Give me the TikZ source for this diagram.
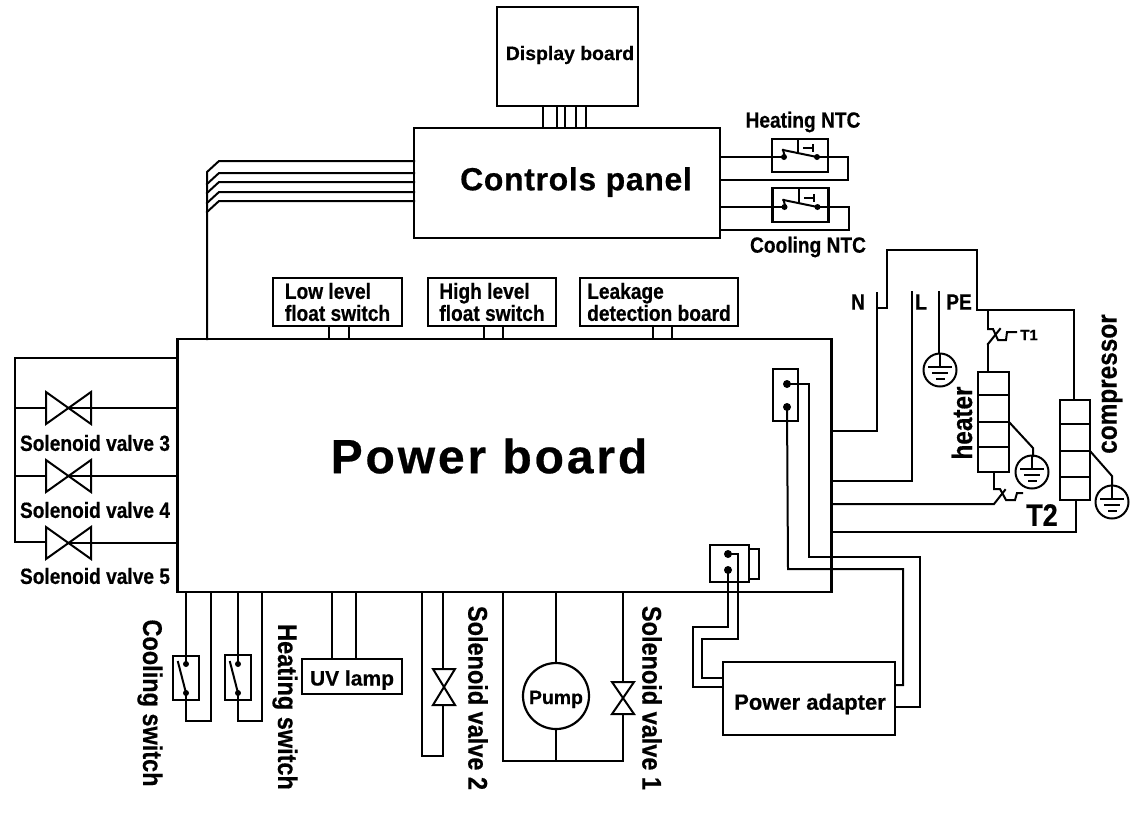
\documentclass[tikz,border=0pt]{standalone}
\usepackage{fontspec}
\setmainfont{Liberation Sans}[BoldFeatures={FakeBold=0.5}]
\newfontfamily\narfont[FakeStretch=0.87,BoldFeatures={FakeBold=0.5}]{Liberation Sans}
\newcommand{\fsz}[1]{\fontsize{#1}{#1}\selectfont}
\tikzset{
  x=1pt,y=-1pt,
  wire/.style={line width=2pt,line join=miter,line cap=rect},
  boxn/.style={draw,line width=2.2pt,inner sep=0pt,outer sep=0pt,rectangle},
  lbl/.style={inner sep=0pt,outer sep=0pt,font=\bfseries\fsz{19}},
  narlbl/.style={inner sep=0pt,outer sep=0pt,font=\narfont\bfseries\fsz{#1}},
  narlbl/.default=22,
  pics/gnd/.style={code={
    \draw[wire] (0,0) circle (16.5);
    \draw[wire] (0,-16.5) -- (0,-3);
    \draw[wire] (-11,-3) -- (11,-3);
    \draw[wire] (-7,3) -- (7,3);
    \draw[wire] (-3.5,9) -- (3.5,9);
  }},
  pics/hvalve/.style={code={
    \draw[wire] (-22.5,-16) -- (22.5,16) -- (22.5,-16) -- (-22.5,16) -- cycle;
  }},
  pics/vvalve/.style={code={
    \draw[wire] (-11,-#1) -- (11,#1) -- (-11,#1) -- (11,-#1) -- cycle;
  }},
  pics/ntc/.style={code={
    \fill (-16,0) circle (3) (17,0) circle (3);
    \draw[wire] (-17,-7) -- (-15,0);
    \draw[wire] (-17,-7) -- (17,0);
    \draw[wire] (-2,-18) -- (-2,-5);
    \draw[wire] (4,-9) -- (13,-9);
    \draw[wire] (13,-12) -- (13,-6);
  }},
  pics/vsw/.style={code={
    \fill (0,0) circle (3) (0,29) circle (3);
    \draw[wire] (-8,-2) -- (0,29);
  }},
  pics/thermo/.style={code={
    \draw[wire] (0,0) -- (5,0) -- (10,11) -- (18,11) -- (19,3) -- (28,3);
    \draw[wire] (0,15) -- (12,0);
  }},
}
\begin{document}
\begin{tikzpicture}
\useasboundingbox (0,0) rectangle (1142,815);

% main boxes
\node[boxn,lbl,minimum width=141pt,minimum height=99pt] (display) at (567.5,56.5) {};
\node[lbl,font=\bfseries\fsz{19.4}] (displaytxt) at (570,55) {Display board};
\node[boxn,minimum width=306pt,minimum height=110pt] (panel) at (567,183) {};
\node[lbl,font=\bfseries\fsz{32}] (paneltxt) at (576,182) {\addfontfeature{LetterSpace=2}Controls panel};
\node[boxn,minimum width=654pt,minimum height=253pt] (power) at (504.5,465.5) {};
\node[lbl,font=\bfseries\fsz{48}] (powertxt) at (489,456) {\addfontfeature{LetterSpace=6}Power board};

% float switch boxes
\node[boxn,minimum width=129pt,minimum height=48pt,narlbl=22,align=left] (low) at (337.5,302) {\baselineskip=21pt Low level\\float switch};
\node[boxn,minimum width=128pt,minimum height=48pt,narlbl=22,align=left] (high) at (492,302) {\baselineskip=21pt High level\\float switch};
\node[boxn,minimum width=158pt,minimum height=48pt,narlbl=22,align=left] (leak) at (659,302) {\baselineskip=21pt Leakage\\detection board};
\draw[wire] (329,0 |- low.south) -- (329,0 |- power.north) (349,0 |- low.south) -- (349,0 |- power.north);
\draw[wire] (484,0 |- high.south) -- (484,0 |- power.north) (503,0 |- high.south) -- (503,0 |- power.north);
\draw[wire] (653,0 |- leak.south) -- (653,0 |- power.north) (672,0 |- leak.south) -- (672,0 |- power.north);

% display to panel
\foreach \xx in {543,557,565,576,586}
  \draw[wire] (\xx,0 |- display.south) -- (\xx,0 |- panel.north);

% panel to power
\draw[wire] (207,0 |- power.north) -- (207,172) -- (219,161) -- (panel.west |- 0,161);
\draw[wire] (207,184) -- (219,173) -- (panel.west |- 0,173);
\draw[wire] (207,193) -- (219,182) -- (panel.west |- 0,182);
\draw[wire] (207,203) -- (219,192) -- (panel.west |- 0,192);
\draw[wire] (207,212) -- (219,201) -- (panel.west |- 0,201);

% NTC
\draw[wire] (panel.east |- 0,157) -- (848,157) -- (848,180) -- (panel.east |- 0,180);
\draw[wire] (panel.east |- 0,207) -- (849,207) -- (849,230) -- (panel.east |- 0,230);
\node[boxn,fill=white,minimum width=56pt,minimum height=33pt] (hntcb) at (800,155.5) {};
\node[boxn,fill=white,minimum width=56pt,minimum height=34pt] (cntcb) at (800.5,205) {};
\draw[wire] (hntcb.west |- 0,157) -- (784,157) (817,157) -- (hntcb.east |- 0,157);
\draw[wire] (cntcb.west |- 0,207) -- (784,207) (817,207) -- (cntcb.east |- 0,207);
\pic at (800,157) {ntc};
\pic at (800.5,207) {ntc};
\node[narlbl=22] (hntclbl) at (803,122) {Heating NTC};
\node[narlbl=22] (cntclbl) at (808,247) {Cooling NTC};

% left valves
\draw[wire] (power.west |- 0,358) -- (15,358) -- (15,542);
\draw[wire] (15,408) -- (46,408) (68,408) -- (power.west |- 0,408);
\draw[wire] (15,476) -- (46,476) (68,476) -- (power.west |- 0,476);
\draw[wire] (15,542) -- (46,542) (68,543) -- (power.west |- 0,543);
\pic at (68.5,408) {hvalve};
\pic at (68.5,476) {hvalve};
\pic at (68.5,543) {hvalve};
\node[narlbl=22] (sv3) at (95,443) {Solenoid valve 3};
\node[narlbl=22] (sv4) at (95,510) {Solenoid valve 4};
\node[narlbl=22] (sv5) at (95,576) {Solenoid valve 5};

% cooling / heating switch
\node[boxn,minimum width=26pt,minimum height=44pt] (csw) at (186,678) {};
\node[boxn,minimum width=26pt,minimum height=45pt] (hsw) at (238,677.5) {};
\draw[wire] (186,0 |- power.south) -- (186,664) (186,693) -- (186,721) -- (211,721) -- (211,0 |- power.south);
\draw[wire] (238,0 |- power.south) -- (238,664) (238,693) -- (238,721) -- (262,721) -- (262,0 |- power.south);
\pic at (186,664) {vsw};
\pic at (238,664) {vsw};
\node[narlbl=27,rotate=-90] (cswl) at (150,703) {Cooling switch};
\node[narlbl=27,rotate=-90] (hswl) at (285,707) {Heating switch};

% UV lamp
\node[boxn,minimum width=100pt,minimum height=35pt,lbl,font=\bfseries\fsz{21}] (uv) at (352,676.5) {\raisebox{-9pt}[0pt][0pt]{UV lamp}};
\draw[wire] (332,0 |- power.south) -- (332,0 |- uv.north) (356,0 |- power.south) -- (356,0 |- uv.north);

% valve 2
\draw[wire] (422,0 |- power.south) -- (422,756) -- (443,756) -- (443,705);
\draw[wire] (443,0 |- power.south) -- (443,669);
\pic at (444,687) {vvalve=18};
\node[narlbl=27,rotate=-90] (sv2) at (478,698) {Solenoid valve 2};

% pump, valve 1
\node[boxn,circle,minimum size=66pt,lbl,font=\bfseries\fsz{19.4}] (pump) at (556,696) {\raisebox{-8pt}[0pt][0pt]{Pump}};
\draw[wire] (556,0 |- power.south) -- (pump.north);
\draw[wire] (pump.south) -- (556,761);
\draw[wire] (503,0 |- power.south) -- (503,761) -- (623,761) -- (623,714);
\draw[wire] (623,0 |- power.south) -- (623,682);
\pic at (623,698) {vvalve=16};
\node[narlbl=27,rotate=-90] (sv1) at (652,698) {Solenoid valve 1};

% power adapter & connectors
\node[boxn,minimum width=172pt,minimum height=73pt,lbl,font=\bfseries\fsz{22}] (adapter) at (809,698.5) {};
\node[lbl,font=\bfseries\fsz{22}] (adaptertxt) at (810,704) {Power adapter};
\node[boxn,minimum width=39pt,minimum height=37pt] (conb) at (729.5,563.5) {};
\node[boxn,minimum width=10pt,minimum height=30pt] (tab) at (754,564) {};
\node[boxn,minimum width=25pt,minimum height=52pt] (conr) at (785.5,395) {};
\fill (728,554) circle (4) (728,570) circle (4) (787,384) circle (4) (787,407) circle (4);
\draw[wire] (728,570) -- (728,627) -- (693,627) -- (693,687) -- (adapter.west |- 0,687);
\draw[wire] (728,554) -- (738,554) -- (738,639) -- (702,639) -- (702,678) -- (adapter.west |- 0,678);
\draw[wire] (787,384) -- (809,384) -- (809,557) -- (920,557) -- (920,707) -- (adapter.east |- 0,707);
\draw[wire] (787,407) -- (788,569) -- (903,569) -- (903,685) -- (adapter.east |- 0,685);

% mains
\draw[wire] (power.east |- 0,431) -- (877,431) -- (877,293);
\draw[wire] (877,308) -- (887,308) -- (887,250) -- (977,250) -- (977,310) -- (1074,310) -- (1074,400);
\draw[wire] (power.east |- 0,481) -- (912,481) -- (912,292);
\draw[wire] (939,292) -- (939,353);
\node[narlbl=22] (nl) at (858,302) {N};
\node[narlbl=22] (ll) at (921,302) {L};
\node[narlbl=22] (pel) at (959,302) {PE};
\pic at (940,370) {gnd};

% heater
\node[boxn,minimum width=31pt,minimum height=100pt] (heater) at (993.5,422) {};
\foreach \yy in {395,422,447} \draw[wire] (heater.west |- 0,\yy) -- (heater.east |- 0,\yy);
\draw[wire] (988,310) -- (988,329);
\pic at (988,329) {thermo};
\draw[wire] (988,344) -- (988,0 |- heater.north);
\node[lbl,font=\bfseries\fsz{15}] (t1) at (1029,335) {T1};
\draw[wire] (1009,422) -- (1033,448) -- (1033,456);
\pic at (1032,472) {gnd};
\node[narlbl=28,rotate=90] (hl) at (962,423) {heater};

% T2
\draw[wire] (994,0 |- heater.south) -- (994,489);
\draw[wire] (power.east |- 0,504) -- (994,504) -- (1005,490);
\draw[wire] (994,489) -- (1000,489) -- (1006,500) -- (1015,500) -- (1017,493) -- (1022,493);
\node[narlbl=31] (t2) at (1042,515) {T2};

% compressor
\node[boxn,minimum width=30pt,minimum height=100pt] (comp) at (1075,450) {};
\foreach \yy in {424,451,477} \draw[wire] (comp.west |- 0,\yy) -- (comp.east |- 0,\yy);
\draw[wire] (1076,0 |- comp.south) -- (1076,532) -- (power.east |- 0,532);
\draw[wire] (1090,451) -- (1112,476) -- (1112,485);
\pic at (1112,502) {gnd};
\node[narlbl=28,rotate=90] (cl) at (1112,384) {compressor};
\end{tikzpicture}
\end{document}
